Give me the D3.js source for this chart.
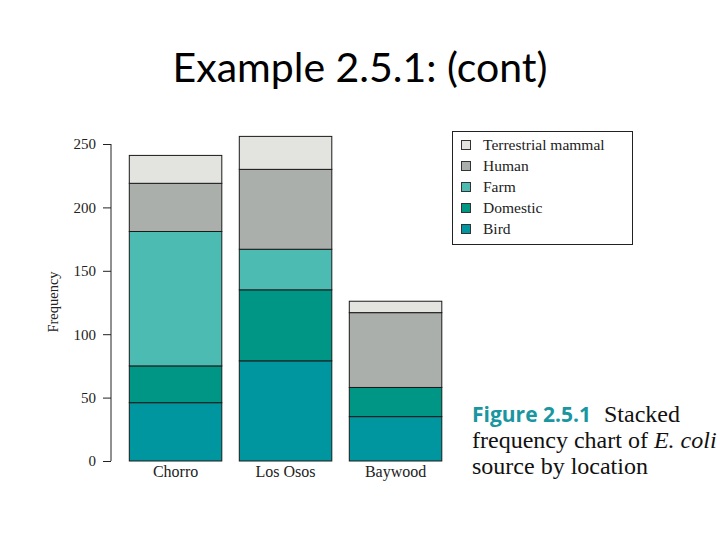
<!DOCTYPE html>
<html>
<head>
<meta charset="utf-8">
<script src="https://cdn.jsdelivr.net/npm/d3@7"></script>
<style>
  body { margin: 0; background: #fff; }
  svg { display: block; }
</style>
</head>
<body>
<div id="chart"></div>
<script>
// data
const locations = ["Chorro", "Los Osos", "Baywood"];
const sources = ["Bird", "Domestic", "Farm", "Human", "Terrestrial mammal"];
const bird = [46, 79, 35];
const domestic = [29, 56, 23];
const farm = [106, 32, 0];
const human = [38, 63, 59];
const terrestrial = [22, 26, 9];
const yTicks = [0, 50, 100, 150, 200, 250];
const colors = ["#0096a0", "#009686", "#4cbbb1", "#abafab", "#e3e4e0"];

const serif = "'Liberation Serif', 'Times New Roman', serif";
const width = 720, height = 540;
const svg = d3.select("#chart").append("svg")
    .attr("width", width)
    .attr("height", height);

// title
svg.append("text")
    .attr("x", 360)
    .attr("y", 82)
    .attr("text-anchor", "middle")
    .attr("font-family", "Lato, 'Open Sans', sans-serif")
    .attr("font-size", 41)
    .attr("fill", "#000")
    .text("Example 2.5.1: (cont)");

const table = locations.map((loc, i) => ({
    location: loc,
    "Bird": bird[i],
    "Domestic": domestic[i],
    "Farm": farm[i],
    "Human": human[i],
    "Terrestrial mammal": terrestrial[i]
}));

const series = d3.stack().keys(sources)(table);

const x = d3.scaleBand()
    .domain(locations)
    .range([129.3, 441.8])
    .paddingInner(0.159)
    .paddingOuter(0);

const y = d3.scaleLinear()
    .domain([0, 250])
    .range([461, 144]);

const color = d3.scaleOrdinal().domain(sources).range(colors);

const chart = svg.append("g");

chart.selectAll("g.layer")
    .data(series)
    .join("g")
    .attr("class", "layer")
    .attr("fill", d => color(d.key))
    .selectAll("rect")
    .data(d => d.filter(s => s[1] - s[0] > 0))
    .join("rect")
    .attr("x", d => x(d.data.location))
    .attr("y", d => y(d[1]))
    .attr("width", x.bandwidth())
    .attr("height", d => y(d[0]) - y(d[1]))
    .attr("stroke", "#1a1a1a")
    .attr("stroke-width", 1);

// y axis
const yAxis = svg.append("g")
    .attr("transform", "translate(111,0)")
    .call(d3.axisLeft(y).tickValues(yTicks).tickSize(8).tickPadding(7));
yAxis.select(".domain").attr("stroke", "#222").attr("d", `M0,${y(250)}V${y(0)}`);
yAxis.selectAll("line").attr("stroke", "#222");
yAxis.selectAll("text")
    .attr("font-family", serif)
    .attr("font-size", 15)
    .attr("fill", "#222");

svg.append("text")
    .attr("transform", "translate(58,302) rotate(-90)")
    .attr("text-anchor", "middle")
    .attr("font-family", serif)
    .attr("font-size", 14.5)
    .attr("fill", "#222")
    .text("Frequency");

// x labels
svg.append("g").selectAll("text")
    .data(locations)
    .join("text")
    .attr("x", d => x(d) + x.bandwidth() / 2)
    .attr("y", 477)
    .attr("text-anchor", "middle")
    .attr("font-family", serif)
    .attr("font-size", 16)
    .attr("fill", "#222")
    .text(d => d);

// legend
const legend = svg.append("g");
legend.append("rect")
    .attr("x", 452.5)
    .attr("y", 131.5)
    .attr("width", 180)
    .attr("height", 113)
    .attr("fill", "#fff")
    .attr("stroke", "#222");

const legendItems = sources.slice().reverse();
const li = legend.selectAll("g.item")
    .data(legendItems)
    .join("g")
    .attr("class", "item")
    .attr("transform", (d, i) => `translate(0,${140 + i * 21})`);
li.append("rect")
    .attr("x", 461.5)
    .attr("y", 0.5)
    .attr("width", 9)
    .attr("height", 9)
    .attr("fill", d => color(d))
    .attr("stroke", "#333");
li.append("text")
    .attr("x", 483)
    .attr("y", 10)
    .attr("font-family", serif)
    .attr("font-size", 15.5)
    .attr("fill", "#222")
    .text(d => d);

// caption
const capLine = (yy) => svg.append("text")
    .attr("x", 472)
    .attr("y", yy)
    .attr("font-family", serif)
    .attr("font-size", 24)
    .attr("fill", "#111");

const l1 = capLine(422);
l1.append("tspan")
    .attr("font-family", "'Open Sans', sans-serif")
    .attr("font-weight", "bold")
    .attr("font-size", 21)
    .attr("fill", "#1a96a0")
    .text("Figure 2.5.1");
l1.append("tspan").attr("dx", 13).attr("font-family", serif).text("Stacked");

const l2 = capLine(448);
l2.append("tspan").attr("font-family", serif).text("frequency chart of ");
l2.append("tspan").attr("font-family", serif).attr("font-style", "italic").text("E. coli");

capLine(474).append("tspan").attr("font-family", serif).text("source by location");
</script>
</body>
</html>
